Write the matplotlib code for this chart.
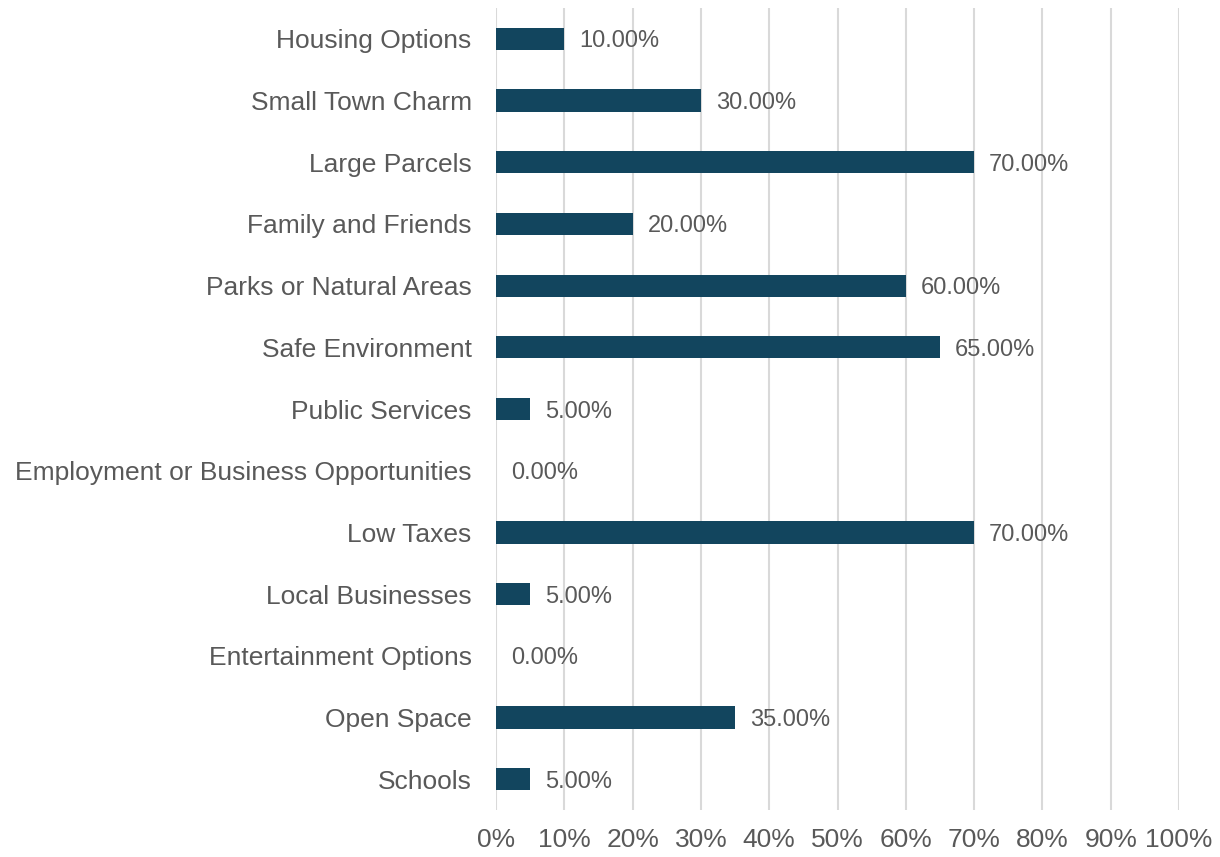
import matplotlib
matplotlib.use("Agg")
import matplotlib.pyplot as plt
from matplotlib.ticker import FuncFormatter

# Данные
categories = [
    "Housing Options",
    "Small Town Charm",
    "Large Parcels",
    "Family and Friends",
    "Parks or Natural Areas",
    "Safe Environment",
    "Public Services",
    "Employment or Business Opportunities",
    "Low Taxes",
    "Local Businesses",
    "Entertainment Options",
    "Open Space",
    "Schools",
]
values = [10, 30, 70, 20, 60, 65, 5, 0, 70, 5, 0, 35, 5]
xticks = [0, 10, 20, 30, 40, 50, 60, 70, 80, 90, 100]

bar_color = "#12455e"
text_color = "#595959"
grid_color = "#d9d9d9"

plt.rcParams['font.family'] = ['Liberation Sans', 'DejaVu Sans']

fig = plt.figure(figsize=(12.2, 8.57), dpi=100)
ax = fig.add_axes([0.4066, 0.0548, 0.5598, 0.9359])

y = list(range(len(categories)))
ax.barh(y, values, height=0.36, color=bar_color, zorder=3)

# подписи значений справа от столбцов
for yi, v in zip(y, values):
    ax.annotate(f"{v:.2f}%", (v, yi), xytext=(15, 0), textcoords="offset pixels",
                va="center_baseline", ha="left", fontsize=17, color=text_color)

ax.set_xlim(0, 100)
ax.set_ylim(len(categories) - 0.5, -0.5)
ax.set_xticks(xticks)
ax.xaxis.set_major_formatter(FuncFormatter(lambda x, p: f"{x:.0f}%"))
ax.set_yticks(y)
ax.set_yticklabels(categories)

ax.grid(axis="x", color=grid_color, linewidth=1.5, zorder=0)
ax.tick_params(axis="both", length=0, colors=text_color, labelsize=19)
ax.tick_params(axis="y", pad=17.5)
ax.tick_params(axis="x", pad=13)
for s in ax.spines.values():
    s.set_visible(False)

fig.savefig("out.png", dpi=100)
